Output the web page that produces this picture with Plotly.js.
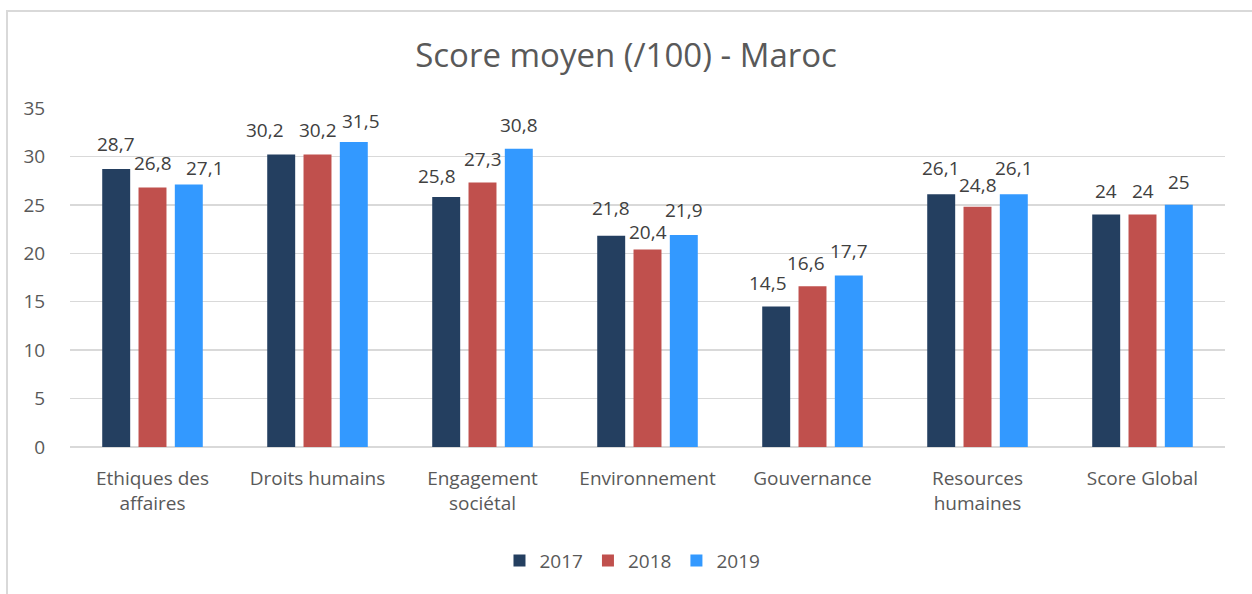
<!DOCTYPE html>
<html><head><meta charset="utf-8">
<script src="https://cdn.plot.ly/plotly-3.0.1.min.js"></script>
<style>
html,body{margin:0;padding:0;background:#fff;overflow:hidden;}
#chart{width:1252px;height:594px;}
#frame{position:absolute;left:6px;top:10px;width:1270px;height:620px;border:2px solid #d9d9d9;pointer-events:none;box-sizing:border-box;}
</style></head>
<body>
<div id="chart"></div>
<div id="frame"></div>
<script>
const categories = ["Ethiques des<br>affaires","Droits humains","Engagement<br>sociétal","Environnement","Gouvernance","Resources<br>humaines","Score Global"];
const years = ["2017","2018","2019"];
const v2017 = [28.7,30.2,25.8,21.8,14.5,26.1,24];
const v2018 = [26.8,30.2,27.3,20.4,16.6,24.8,24];
const v2019 = [27.1,31.5,30.8,21.9,17.7,26.1,25];
const colors = ["#243F60","#C0504D","#3399FF"];
const series = [v2017,v2018,v2019];

// label placement nudges (pixels) mimicking the original's collision avoidance
const nudgeX = [[0,0,16],[-16,0,7],[-9,0,0],[0,0,0],[-8,-7,0],[0,0,0],[0,0,0]];
const nudgeY = [[1,0,-7],[0,0,-3],[-3,0,0],[4,-7,1],[0,-1,1],[2,-2,2],[0,0,-1]];

const fmt = v => String(v).replace('.', ',');
const font = "'Open Sans', sans-serif";
const data = series.map((vals,i)=>({
  type:'bar', name:years[i], x:categories, y:vals,
  marker:{color:colors[i]},
  hoverinfo:'none'
}));
const bargap = 0.34;
const catPx = 1155/categories.length;
const slot = catPx*(1-bargap)/3;
const annotations = [];
series.forEach((vals,i)=>{
  vals.forEach((v,j)=>{
    annotations.push({
      x:categories[j], y:v, xref:'x', yref:'y', text:fmt(v), showarrow:false,
      xanchor:'center', yanchor:'middle',
      xshift:(i-1)*slot + nudgeX[j][i], yshift:24 + nudgeY[j][i],
      font:{family:font,size:19,color:'#404040'}
    });
  });
});
const layout = {
  width:1252, height:594,
  margin:{l:70,r:27,t:108,b:147},
  paper_bgcolor:'#fff', plot_bgcolor:'#fff',
  title:{text:'Score moyen (/100) - Maroc', x:0.5, xanchor:'center', y:0.907, yanchor:'middle',
    font:{family:font,size:33,color:'#595959'}},
  barmode:'group', bargap:bargap, bargroupgap:0.23,
  font:{family:font,color:'#595959'},
  annotations:annotations,
  xaxis:{tickfont:{family:font,size:19,color:'#595959'}, ticks:'outside', ticklen:14, tickcolor:'rgba(0,0,0,0)',
    showline:false, showgrid:false},
  yaxis:{range:[0,35], dtick:5, tick0:0, tickfont:{family:font,size:19,color:'#595959'},
    ticks:'outside', ticklen:20, tickcolor:'rgba(0,0,0,0)',
    showgrid:true, gridcolor:'#d9d9d9', gridwidth:1.5, zeroline:true, zerolinecolor:'#d9d9d9', zerolinewidth:1.5, showline:false},
  showlegend:true,
  legend:{orientation:'h', x:0.487, xanchor:'center', y:-0.335, yanchor:'middle',
    font:{family:font,size:19,color:'#595959'}, itemwidth:30, traceorder:'normal'}
};
Plotly.newPlot('chart', data, layout, {displayModeBar:false, staticPlot:true});
</script>
</body></html>
